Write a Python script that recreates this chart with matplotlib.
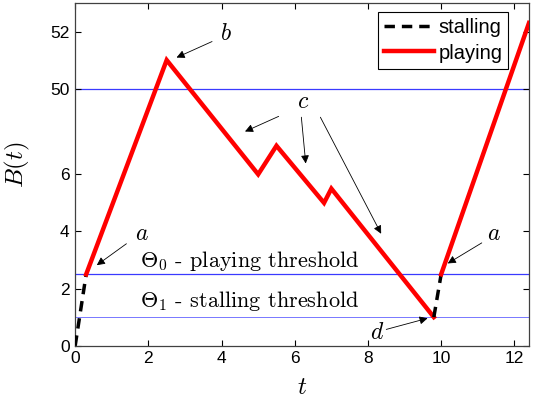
import matplotlib.pyplot as plt

plt.rcParams['font.family'] = ['Liberation Sans', 'DejaVu Sans']
plt.rcParams['mathtext.fontset'] = 'cm'

# buffer trajectory (axis is broken: 9 -> "50", 11 -> "52")
stall1_t = [0.0, 0.3]
stall1_b = [0.0, 2.5]
play1_t = [0.3, 2.5, 5.0, 5.5, 6.8, 7.0, 9.8]
play1_b = [2.5, 10.0, 6.0, 7.0, 5.0, 5.5, 1.0]
stall2_t = [9.8, 10.0]
stall2_b = [1.0, 2.5]
play2_t = [10.0, 12.4]
play2_b = [2.5, 11.3]

theta0 = 2.5
theta1 = 1.0
upper_line = 9.0

x_ticks = [0, 2, 4, 6, 8, 10, 12]
y_ticks = [0, 2, 4, 6, 9, 11]
y_labels = ["0", "2", "4", "6", "50", "52"]

fig = plt.figure(figsize=(5.34, 4.03), dpi=100)
ax = fig.add_axes([0.1408, 0.1422, 0.8498, 0.8504])

blue = '#3a3aff'
ax.axhline(upper_line, color=blue, lw=0.9, zorder=1)
ax.axhline(theta0, color=blue, lw=0.9, zorder=1)
ax.axhline(theta1, color=blue, lw=0.6, alpha=0.8, zorder=1)

ax.plot(stall1_t, stall1_b, 'k--', lw=2.5, dashes=(3, 2), label='stalling', zorder=3)
ax.plot(play1_t, play1_b, color='red', lw=3.2, label='playing', zorder=3, solid_joinstyle='miter')
ax.plot(stall2_t, stall2_b, 'k--', lw=2.5, dashes=(3, 2), zorder=3)
ax.plot(play2_t, play2_b, color='red', lw=3.2, zorder=3)

ax.set_xlim(0, 12.4)
ax.set_ylim(0, 12)
ax.set_xticks(x_ticks)
ax.set_yticks(y_ticks)
ax.set_yticklabels(y_labels)
ax.tick_params(direction='in', top=True, right=True, labelsize=12.5, length=4, pad=4)
for s in ax.spines.values():
    s.set_color('#404040')
    s.set_linewidth(0.9)

ax.set_xlabel(r'$t$', fontsize=18, labelpad=6)
ax.set_ylabel(r'$B(t)$', fontsize=18, labelpad=4)
ax.yaxis.set_label_coords(-0.095, 0.53)

ax.text(1.77, 2.95, r'$\Theta_0$ - playing threshold', fontsize=16, va='center',
        family='cmr10')
ax.text(1.77, 1.55, r'$\Theta_1$ - stalling threshold', fontsize=16, va='center',
        family='cmr10')

arrow = dict(arrowstyle='-|>', color='black', lw=0.6, mutation_scale=12, shrinkA=0, shrinkB=0)
ax.text(4.13, 10.9, r'$b$', fontsize=17, ha='center', va='center')
ax.annotate('', xy=(2.77, 10.09), xytext=(3.74, 10.65), arrowprops=arrow)
ax.text(6.22, 8.55, r'$c$', fontsize=17, ha='center', va='center')
ax.annotate('', xy=(4.64, 7.5), xytext=(5.56, 8.03), arrowprops=arrow)
ax.annotate('', xy=(6.30, 6.38), xytext=(6.18, 8.0), arrowprops=arrow)
ax.annotate('', xy=(8.36, 3.92), xytext=(6.70, 8.0), arrowprops=arrow)
ax.text(1.81, 3.9, r'$a$', fontsize=17, ha='center', va='center')
ax.annotate('', xy=(0.59, 2.82), xytext=(1.40, 3.57), arrowprops=arrow)
ax.text(11.43, 3.9, r'$a$', fontsize=17, ha='center', va='center')
ax.annotate('', xy=(10.18, 2.88), xytext=(11.11, 3.6), arrowprops=arrow)
ax.text(8.24, 0.45, r'$d$', fontsize=17, ha='center', va='center')
ax.annotate('', xy=(9.63, 0.96), xytext=(8.5, 0.57), arrowprops=arrow)

leg = ax.legend(loc='upper right', bbox_to_anchor=(0.968, 0.99), fontsize=14.5,
                handlelength=2.5, handletextpad=0.2, borderpad=0.3,
                labelspacing=0.3, fancybox=False, framealpha=1, borderaxespad=0.3)
leg.get_frame().set_edgecolor('black')
leg.get_frame().set_linewidth(0.8)

fig.savefig('out.png', dpi=100)
